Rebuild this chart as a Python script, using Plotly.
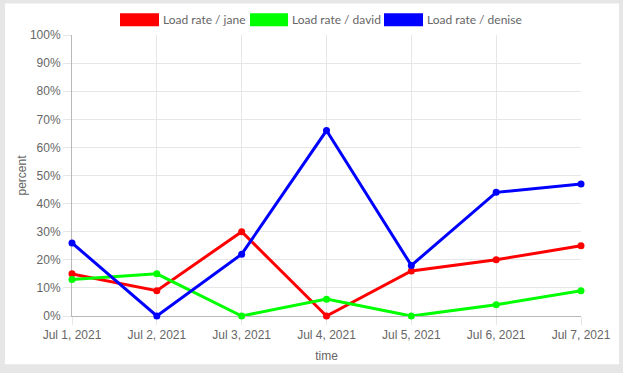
import plotly.graph_objects as go

dates = ["Jul 1, 2021", "Jul 2, 2021", "Jul 3, 2021", "Jul 4, 2021",
         "Jul 5, 2021", "Jul 6, 2021", "Jul 7, 2021"]
jane = [15, 9, 30, 0, 16, 20, 25]
david = [13, 15, 0, 6, 0, 4, 9]
denise = [26, 0, 22, 66, 18, 44, 47]
series_names = ["Load rate / jane", "Load rate / david", "Load rate / denise"]
series_colors = ["#ff0000", "#00ff00", "#0000ff"]
y_ticks = list(range(0, 101, 10))
y_tick_labels = [f"{v}%" for v in y_ticks]

W, H = 623, 373
L, R, T, B = 72, 42, 35, 53
pw, ph = W - L - R, H - T - B

def px_x(p):
    return (p - L) / pw

def px_y(p):
    return (H - B - p) / ph

fig = go.Figure()
for name, vals, col in zip(series_names, [jane, david, denise], series_colors):
    fig.add_trace(go.Scatter(
        x=list(range(len(dates))), y=vals, name=name, mode="lines+markers",
        line=dict(color=col, width=3), marker=dict(color=col, size=7),
        cliponaxis=False, showlegend=False, hoverinfo="skip"))

shapes = [dict(type="rect", xref="paper", yref="paper", layer="below",
               x0=px_x(5), x1=px_x(619), y0=px_y(369), y1=px_y(3),
               fillcolor="white", line=dict(width=0))]
annotations = []
legend_boxes = [(120, 159, 162), (250, 288, 291), (384, 423, 426)]
for (bx0, bx1, tx), name, col in zip(legend_boxes, series_names, series_colors):
    shapes.append(dict(type="rect", xref="paper", yref="paper", layer="below",
                       x0=px_x(bx0), x1=px_x(bx1), y0=px_y(26), y1=px_y(13),
                       fillcolor=col, line=dict(width=0)))
    annotations.append(dict(xref="paper", yref="paper", x=px_x(tx), y=px_y(19.5),
                            text=name, showarrow=False, xanchor="left", yanchor="middle",
                            borderpad=0,
                            font=dict(family="Lato", size=12, color="#666")))

fig.update_layout(
    width=W, height=H, margin=dict(l=L, r=R, t=T, b=B, pad=0),
    paper_bgcolor="#e6e6e6", plot_bgcolor="white",
    font=dict(family="Liberation Sans", size=12, color="#666"),
    shapes=shapes, annotations=annotations,
    xaxis=dict(tickmode="array", tickvals=list(range(len(dates))), ticktext=dates,
               range=[0, 6], showgrid=True, gridcolor="#e6e6e6", gridwidth=1,
               showline=True, linecolor="#b8b8b8", linewidth=1,
               ticks="outside", ticklen=8, tickcolor="#e6e6e6",
               zeroline=False, mirror=False, layer="below traces",
               title=dict(text="time", font=dict(size=12, color="#666"), standoff=10)),
    yaxis=dict(tickmode="array", tickvals=y_ticks, ticktext=y_tick_labels,
               range=[0, 100], showgrid=True, gridcolor="#e6e6e6", gridwidth=1,
               showline=True, linecolor="#b8b8b8", linewidth=1,
               ticks="outside", ticklen=8, tickcolor="#e6e6e6",
               zeroline=False, layer="below traces",
               title=dict(text="percent", font=dict(size=12, color="#666"), standoff=0)),
)

fig.write_html("out.html", config={"displayModeBar": False},
               post_script="document.body.style.margin='0px';")
